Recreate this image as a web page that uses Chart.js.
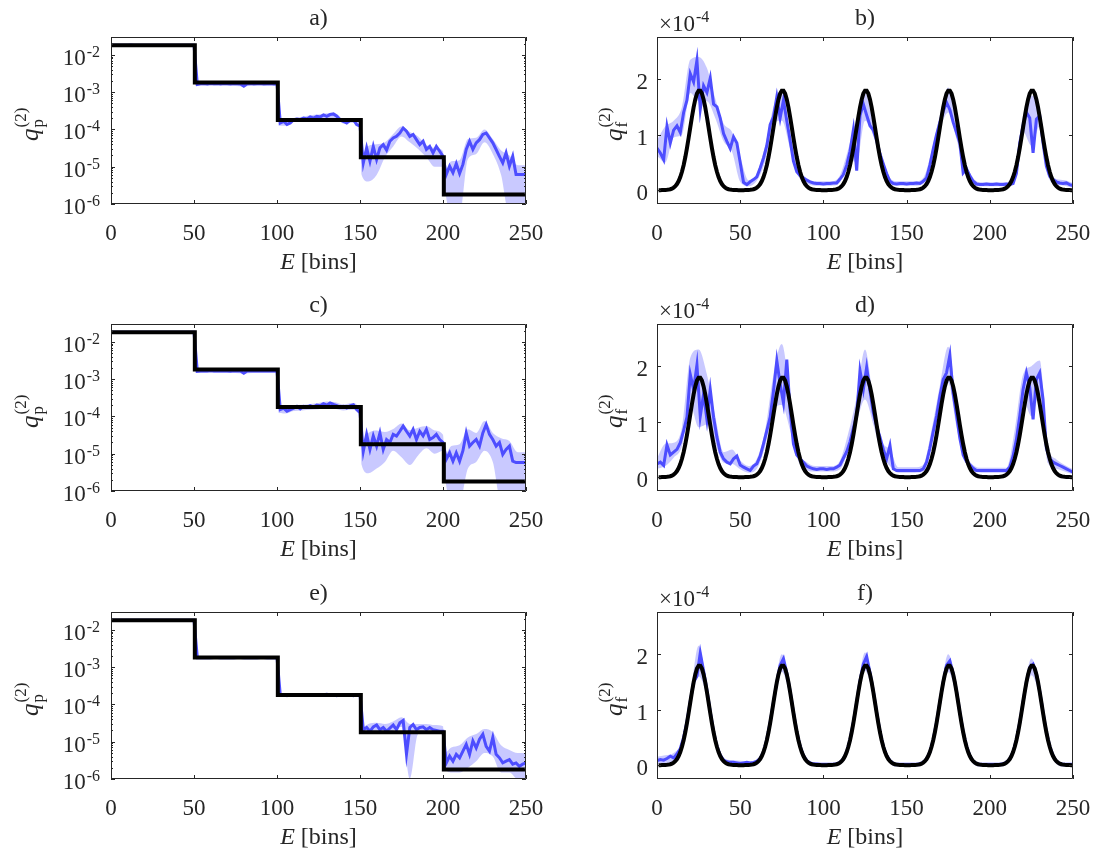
<!DOCTYPE html>
<html>
<head>
<meta charset="utf-8">
<script src="https://cdn.jsdelivr.net/npm/chart.js@4.4.0/dist/chart.umd.min.js"></script>
<style>
  html, body { margin: 0; padding: 0; background: #fff; overflow: hidden; }
  #fig { position: relative; width: 1099px; height: 856px; }
  #fig canvas { position: absolute; }
</style>
</head>
<body>
<div id="fig"></div>
<script>
/* ===============================
   DATA
================================ */
// energy bins of the estimates (every 2nd bin) and of the confidence bands
const eBins = Array.from({ length: 126 }, (_, i) => 2 * i);
const bandBinsF = Array.from({ length: 51 }, (_, i) => 5 * i);
const bandBinsP = [];
for (let b = 0; b < 5; b++) {
    bandBinsP.push(b * 50 + 1);
    for (let k = 5; k <= 50; k += 5) bandBinsP.push(b * 50 + k);
}

// true q_p : one level per block of 50 bins
const stepEdges = [0.5, 50.5, 100.5, 150.5, 200.5, 250];
const stepLevels = [1.8e-2, 1.8e-3, 1.8e-4, 1.8e-5, 1.8e-6];

// true q_f (x1e-4) over one block of 50 bins, same peak in every block
const peakBlock = [0, 0, 0.001, 0.001, 0.003, 0.005, 0.009, 0.016, 0.027, 0.045, 0.071, 0.109, 0.163, 0.235, 0.330, 0.449, 0.592, 0.757, 0.939, 1.130, 1.318, 1.491, 1.635, 1.739, 1.793,
    1.793, 1.739, 1.635, 1.491, 1.318, 1.130, 0.939, 0.757, 0.592, 0.449, 0.330, 0.235, 0.163, 0.109, 0.071, 0.045, 0.027, 0.016, 0.009, 0.005, 0.003, 0.001, 0.001, 0, 0];

// estimated q_p (panels a, c, e)
const qpA = [1.79e-2, 1.8e-2, 1.81e-2, 1.8e-2, 1.79e-2, 1.8e-2, 1.82e-2, 1.8e-2, 1.79e-2, 1.8e-2, 1.81e-2, 1.8e-2, 1.8e-2, 1.79e-2, 1.8e-2, 1.81e-2, 1.8e-2, 1.79e-2, 1.8e-2, 1.8e-2, 1.81e-2, 1.8e-2, 1.79e-2, 1.8e-2, 1.8e-2, 1.8e-2,
    1.6e-3, 1.68e-3, 1.7e-3, 1.65e-3, 1.72e-3, 1.68e-3, 1.7e-3, 1.66e-3, 1.7e-3, 1.68e-3, 1.64e-3, 1.7e-3, 1.68e-3, 1.66e-3, 1.45e-3, 1.68e-3, 1.7e-3, 1.66e-3, 1.68e-3, 1.7e-3, 1.65e-3, 1.68e-3, 1.7e-3, 1.66e-3, 1.68e-3,
    1.49e-4, 1.65e-4, 1.35e-4, 1.49e-4, 1.82e-4, 1.9e-4, 1.82e-4, 2.0e-4, 1.9e-4, 2.15e-4, 2.0e-4, 2.25e-4, 2.15e-4, 2.45e-4, 2.25e-4, 2.5e-4, 2.6e-4, 2.25e-4, 1.82e-4, 1.65e-4, 1.49e-4, 1.75e-4, 1.82e-4, 1.35e-4, 1.22e-4,
    1.27e-5, 3.2e-5, 1.4e-5, 3.5e-5, 1.56e-5, 3.2e-5, 3.9e-5, 2.8e-5, 4.8e-5, 5.9e-5, 6.5e-5, 8.0e-5, 1.09e-4, 8.9e-5, 6.5e-5, 7.3e-5, 5.3e-5, 3.9e-5, 4.8e-5, 2.9e-5, 3.5e-5, 2.35e-5, 3.5e-5, 2.6e-5, 1.9e-5,
    6.2e-6, 1.03e-5, 6.9e-6, 1.22e-5, 6.6e-6, 1.15e-5, 2.9e-5, 4.8e-5, 2.9e-5, 4.35e-5, 5.3e-5, 7.3e-5, 8.0e-5, 5.9e-5, 4.35e-5, 2.9e-5, 1.9e-5, 1.27e-5, 2.35e-5, 1.03e-5, 1.9e-5, 6.2e-6, 6.2e-6, 6.2e-6, 6.2e-6];
const qpALo = [1.7e-2, 1.7e-2, 1.7e-2, 1.7e-2, 1.7e-2, 1.7e-2, 1.7e-2, 1.7e-2, 1.7e-2, 1.7e-2, 1.7e-2,
    1.5e-3, 1.5e-3, 1.45e-3, 1.5e-3, 1.5e-3, 1.45e-3, 1.4e-3, 1.5e-3, 1.5e-3, 1.45e-3, 1.5e-3,
    1.25e-4, 1.25e-4, 1.6e-4, 1.7e-4, 1.8e-4, 1.9e-4, 2.0e-4, 2.0e-4, 1.45e-4, 1.5e-4, 1.05e-4,
    6e-6, 4e-6, 6e-6, 1.8e-5, 3.5e-5, 6.5e-5, 4.5e-5, 3e-5, 1.8e-5, 1e-5, 1e-5,
    3e-6, 5e-7, 5e-7, 1.6e-5, 2.2e-5, 4.5e-5, 2.2e-5, 6e-6, 5e-7, 5e-7, 5e-7];
const qpAHi = [1.9e-2, 1.9e-2, 1.9e-2, 1.9e-2, 1.9e-2, 1.9e-2, 1.9e-2, 1.9e-2, 1.9e-2, 1.9e-2, 1.9e-2,
    1.85e-3, 1.85e-3, 1.85e-3, 1.85e-3, 1.85e-3, 1.85e-3, 1.85e-3, 1.85e-3, 1.85e-3, 1.85e-3, 1.85e-3,
    1.65e-4, 1.75e-4, 2.0e-4, 2.2e-4, 2.4e-4, 2.5e-4, 2.7e-4, 2.7e-4, 1.9e-4, 2.0e-4, 1.5e-4,
    2.2e-5, 3.6e-5, 4e-5, 4.5e-5, 7.5e-5, 1.2e-4, 8.5e-5, 6.5e-5, 3.8e-5, 3.2e-5, 2.6e-5,
    8e-6, 1.4e-5, 1.5e-5, 5.5e-5, 6e-5, 1e-4, 5.5e-5, 2.7e-5, 2e-5, 1.1e-5, 1.1e-5];

const qpC = [1.8e-2, 1.79e-2, 1.8e-2, 1.81e-2, 1.8e-2, 1.8e-2, 1.79e-2, 1.8e-2, 1.81e-2, 1.8e-2, 1.79e-2, 1.8e-2, 1.8e-2, 1.81e-2, 1.8e-2, 1.79e-2, 1.8e-2, 1.8e-2, 1.81e-2, 1.8e-2, 1.79e-2, 1.8e-2, 1.8e-2, 1.81e-2, 1.8e-2, 1.8e-2,
    1.62e-3, 1.66e-3, 1.68e-3, 1.64e-3, 1.7e-3, 1.66e-3, 1.68e-3, 1.65e-3, 1.68e-3, 1.66e-3, 1.62e-3, 1.68e-3, 1.66e-3, 1.64e-3, 1.43e-3, 1.64e-3, 1.68e-3, 1.66e-3, 1.65e-3, 1.68e-3, 1.64e-3, 1.66e-3, 1.68e-3, 1.65e-3, 1.66e-3,
    1.52e-4, 1.67e-4, 1.38e-4, 1.52e-4, 1.67e-4, 1.86e-4, 1.59e-4, 1.86e-4, 1.75e-4, 1.93e-4, 1.78e-4, 2.0e-4, 1.93e-4, 2.2e-4, 2.0e-4, 2.3e-4, 2.1e-4, 1.93e-4, 1.78e-4, 1.86e-4, 1.67e-4, 1.93e-4, 2.05e-4, 1.52e-4, 1.25e-4,
    1.17e-5, 3.3e-5, 1.3e-5, 2.98e-5, 1.6e-5, 3.6e-5, 1.3e-5, 2.4e-5, 2e-5, 3.3e-5, 2.98e-5, 4.0e-5, 5.5e-5, 4.0e-5, 2.98e-5, 4.5e-5, 2.4e-5, 4.0e-5, 3e-5, 4.5e-5, 2.4e-5, 2.7e-5, 3.3e-5, 2.4e-5, 2e-5,
    7.1e-6, 1.06e-5, 6.3e-6, 1.06e-5, 6.3e-6, 1.2e-5, 3.6e-5, 1.6e-5, 2e-5, 2.4e-5, 1.6e-5, 3.6e-5, 6.05e-5, 3.3e-5, 2.4e-5, 1.6e-5, 2e-5, 9.6e-6, 1.3e-5, 1.6e-5, 6.3e-6, 5.8e-6, 5.8e-6, 5.8e-6, 5.8e-6];
const qpCLo = [1.72e-2, 1.72e-2, 1.72e-2, 1.72e-2, 1.72e-2, 1.72e-2, 1.72e-2, 1.72e-2, 1.72e-2, 1.72e-2, 1.72e-2,
    1.45e-3, 1.45e-3, 1.45e-3, 1.45e-3, 1.45e-3, 1.45e-3, 1.4e-3, 1.45e-3, 1.45e-3, 1.45e-3, 1.45e-3,
    1.25e-4, 1.2e-4, 1.4e-4, 1.45e-4, 1.5e-4, 1.55e-4, 1.7e-4, 1.6e-4, 1.45e-4, 1.5e-4, 1.0e-4,
    5e-6, 3e-6, 4e-6, 6e-6, 1.2e-5, 8e-6, 5e-6, 9e-6, 1.4e-5, 1e-5, 1.2e-5,
    3e-6, 5e-7, 5e-7, 4e-6, 6e-6, 1.2e-5, 6e-6, 5e-7, 5e-7, 5e-7, 5e-7];
const qpCHi = [1.9e-2, 1.9e-2, 1.9e-2, 1.9e-2, 1.9e-2, 1.9e-2, 1.9e-2, 1.9e-2, 1.9e-2, 1.9e-2, 1.9e-2,
    1.82e-3, 1.82e-3, 1.82e-3, 1.82e-3, 1.82e-3, 1.82e-3, 1.82e-3, 1.82e-3, 1.82e-3, 1.82e-3, 1.82e-3,
    1.65e-4, 1.7e-4, 1.95e-4, 2.05e-4, 2.15e-4, 2.3e-4, 2.5e-4, 2.4e-4, 2.1e-4, 2.3e-4, 1.5e-4,
    2.2e-5, 3.6e-5, 4.2e-5, 3.8e-5, 4.6e-5, 6.5e-5, 4.3e-5, 5e-5, 5.5e-5, 4.2e-5, 3.2e-5,
    9e-6, 1.6e-5, 1.8e-5, 4.5e-5, 3.6e-5, 7.5e-5, 3.6e-5, 2.6e-5, 2.2e-5, 1.1e-5, 1.1e-5];

const qpE = [1.8e-2, 1.8e-2, 1.79e-2, 1.8e-2, 1.8e-2, 1.81e-2, 1.8e-2, 1.8e-2, 1.79e-2, 1.8e-2, 1.8e-2, 1.81e-2, 1.8e-2, 1.8e-2, 1.79e-2, 1.8e-2, 1.8e-2, 1.81e-2, 1.8e-2, 1.8e-2, 1.79e-2, 1.8e-2, 1.8e-2, 1.81e-2, 1.8e-2, 1.8e-2,
    1.78e-3, 1.8e-3, 1.79e-3, 1.8e-3, 1.78e-3, 1.8e-3, 1.81e-3, 1.79e-3, 1.8e-3, 1.78e-3, 1.8e-3, 1.79e-3, 1.8e-3, 1.81e-3, 1.79e-3, 1.8e-3, 1.78e-3, 1.8e-3, 1.79e-3, 1.8e-3, 1.8e-3, 1.79e-3, 1.8e-3, 1.78e-3, 1.8e-3,
    1.75e-4, 1.8e-4, 1.72e-4, 1.85e-4, 1.78e-4, 1.82e-4, 1.76e-4, 1.84e-4, 1.8e-4, 1.78e-4, 1.85e-4, 1.8e-4, 1.75e-4, 1.82e-4, 1.86e-4, 1.78e-4, 1.8e-4, 1.72e-4, 1.8e-4, 1.84e-4, 1.76e-4, 1.8e-4, 1.7e-4, 1.78e-4, 1.8e-4,
    2.1e-5, 2.4e-5, 1.9e-5, 2.5e-5, 2.8e-5, 2.1e-5, 2.4e-5, 1.9e-5, 2.3e-5, 2.8e-5, 2.1e-5, 3.2e-5, 3.7e-5, 4.6e-6, 2.4e-5, 2.9e-5, 2.1e-5, 2.4e-5, 2.5e-5, 2.1e-5, 2.4e-5, 2.1e-5, 2.0e-5, 1.9e-5, 1.9e-5,
    2.7e-6, 4.1e-6, 3e-6, 4.6e-6, 3.7e-6, 5.6e-6, 8.5e-6, 4.6e-6, 1.05e-5, 6.8e-6, 1.16e-5, 1.58e-5, 7.5e-6, 5.6e-6, 1.3e-5, 4.6e-6, 3.7e-6, 2.7e-6, 3e-6, 3.3e-6, 2.5e-6, 2.7e-6, 2.2e-6, 2.5e-6, 2.7e-6];
const qpELo = [1.75e-2, 1.75e-2, 1.75e-2, 1.75e-2, 1.75e-2, 1.75e-2, 1.75e-2, 1.75e-2, 1.75e-2, 1.75e-2, 1.75e-2,
    1.72e-3, 1.72e-3, 1.72e-3, 1.72e-3, 1.72e-3, 1.72e-3, 1.72e-3, 1.72e-3, 1.72e-3, 1.72e-3, 1.72e-3,
    1.62e-4, 1.62e-4, 1.62e-4, 1.62e-4, 1.62e-4, 1.62e-4, 1.62e-4, 1.62e-4, 1.62e-4, 1.62e-4, 1.62e-4,
    1.6e-5, 1.6e-5, 1.7e-5, 1.6e-5, 2e-5, 2.5e-5, 1e-6, 1.6e-5, 1.7e-5, 1.6e-5, 1.6e-5,
    2e-6, 1.5e-6, 1.5e-6, 2e-6, 3e-6, 5e-6, 4e-6, 1.5e-6, 1.5e-6, 1e-6, 1e-6];
const qpEHi = [1.85e-2, 1.85e-2, 1.85e-2, 1.85e-2, 1.85e-2, 1.85e-2, 1.85e-2, 1.85e-2, 1.85e-2, 1.85e-2, 1.85e-2,
    1.85e-3, 1.85e-3, 1.85e-3, 1.85e-3, 1.85e-3, 1.85e-3, 1.85e-3, 1.85e-3, 1.85e-3, 1.85e-3, 1.85e-3,
    1.95e-4, 1.95e-4, 1.95e-4, 1.95e-4, 1.95e-4, 1.95e-4, 1.95e-4, 1.95e-4, 1.95e-4, 1.95e-4, 1.95e-4,
    2.4e-5, 3e-5, 3.2e-5, 3e-5, 3.5e-5, 4.5e-5, 3e-5, 3e-5, 3e-5, 2.8e-5, 2.6e-5,
    5e-6, 7e-6, 8e-6, 1.3e-5, 1.6e-5, 2.2e-5, 1.8e-5, 8e-6, 6e-6, 5e-6, 5e-6];

// estimated q_f in units of 1e-4 (panels b, d, f)
const qfB = [0.76, 0.67, 0.55, 1.15, 0.85, 1.08, 1.16, 1.04, 1.40, 1.62, 2.10, 1.95, 2.34, 1.46, 1.88, 1.76, 2.02, 1.55, 1.50, 1.30, 1.02, 0.88, 0.75, 0.96, 0.85, 0.50,
    0.14, 0.10, 0.15, 0.19, 0.24, 0.40, 0.58, 0.80, 1.18, 1.32, 1.68, 1.30, 1.62, 1.25, 0.90, 0.52, 0.33, 0.26, 0.22, 0.18, 0.15, 0.13, 0.12, 0.12, 0.11,
    0.12, 0.12, 0.13, 0.13, 0.20, 0.28, 0.45, 0.70, 1.08, 0.35, 1.35, 1.55, 1.35, 1.16, 1.08, 0.90, 0.65, 0.47, 0.30, 0.16, 0.12, 0.11, 0.12, 0.12, 0.11,
    0.12, 0.12, 0.13, 0.12, 0.16, 0.22, 0.45, 0.74, 1.00, 1.22, 1.42, 1.58, 1.45, 1.22, 1.04, 0.85, 0.31, 0.38, 0.26, 0.16, 0.11, 0.10, 0.10, 0.11, 0.10,
    0.10, 0.11, 0.10, 0.10, 0.11, 0.10, 0.12, 0.30, 0.85, 1.16, 1.40, 1.30, 0.67, 1.28, 1.34, 0.85, 0.43, 0.25, 0.19, 0.15, 0.13, 0.12, 0.13, 0.10, 0.08];
const qfBLo = [0.62, 0.5, 0.95, 1.0, 1.75, 1.6, 1.6, 1.3, 0.88, 0.7,
    0.15, 0.07, 0.17, 0.52, 1.2, 1.25, 0.75, 0.25, 0.12, 0.08,
    0.08, 0.08, 0.14, 0.55, 0.5, 1.25, 0.98, 0.42, 0.11, 0.08,
    0.08, 0.08, 0.11, 0.55, 1.1, 1.4, 0.92, 0.3, 0.11, 0.07,
    0.07, 0.07, 0.07, 0.2, 1.05, 0.8, 1.15, 0.25, 0.1, 0.08, 0.04];
const qfBHi = [0.9, 1.15, 1.25, 1.5, 2.35, 2.4, 2.2, 1.65, 1.2, 1.05,
    0.6, 0.18, 0.3, 0.8, 1.5, 1.8, 1.0, 0.4, 0.22, 0.16,
    0.16, 0.16, 0.27, 0.75, 1.3, 1.75, 1.2, 0.65, 0.22, 0.16,
    0.16, 0.16, 0.22, 0.7, 1.35, 1.85, 1.2, 0.55, 0.22, 0.14,
    0.14, 0.14, 0.14, 0.4, 1.35, 1.7, 1.45, 0.42, 0.2, 0.18, 0.13];

const qfD = [0.24, 0.27, 0.21, 0.58, 0.40, 0.45, 0.50, 0.62, 0.84, 1.08, 1.85, 1.58, 2.02, 1.10, 1.50, 1.04, 1.58, 1.08, 0.72, 0.45, 0.33, 0.27, 0.24, 0.33, 0.38, 0.22,
    0.18, 0.15, 0.12, 0.20, 0.24, 0.38, 0.60, 0.84, 1.08, 1.55, 2.10, 1.68, 1.34, 2.12, 1.20, 0.60, 0.40, 0.33, 0.27, 0.20, 0.17, 0.15, 0.14, 0.15, 0.15,
    0.14, 0.15, 0.15, 0.18, 0.22, 0.34, 0.46, 0.64, 0.88, 1.12, 1.92, 1.58, 1.98, 1.55, 1.16, 0.92, 0.72, 0.50, 0.33, 0.57, 0.15, 0.12, 0.12, 0.12, 0.12,
    0.12, 0.12, 0.12, 0.12, 0.15, 0.27, 0.52, 0.82, 1.10, 1.46, 1.76, 1.88, 2.20, 1.50, 1.12, 0.70, 0.40, 0.28, 0.22, 0.16, 0.12, 0.12, 0.12, 0.12, 0.12,
    0.12, 0.12, 0.12, 0.12, 0.12, 0.18, 0.38, 0.68, 1.10, 1.58, 1.88, 1.62, 1.04, 1.76, 1.88, 1.40, 0.52, 0.33, 0.27, 0.24, 0.21, 0.18, 0.15, 0.12, 0.09];
const qfDLo = [0.15, 0.2, 0.35, 0.55, 1.3, 0.9, 0.95, 0.6, 0.26, 0.24,
    0.14, 0.08, 0.15, 0.55, 1.2, 1.3, 0.85, 0.28, 0.13, 0.1,
    0.1, 0.1, 0.14, 0.5, 1.0, 1.4, 0.95, 0.4, 0.2, 0.08,
    0.08, 0.08, 0.1, 0.55, 1.3, 1.7, 0.9, 0.3, 0.1, 0.08,
    0.08, 0.08, 0.08, 0.5, 1.4, 1.1, 1.5, 0.25, 0.15, 0.1, 0.05];
const qfDHi = [0.34, 0.6, 0.62, 0.9, 2.15, 2.3, 1.85, 1.1, 0.45, 0.5,
    0.3, 0.2, 0.33, 0.85, 1.85, 2.4, 1.45, 0.46, 0.27, 0.2,
    0.2, 0.2, 0.3, 0.8, 1.45, 2.3, 1.4, 0.65, 0.5, 0.18,
    0.18, 0.18, 0.22, 0.85, 1.65, 2.35, 1.35, 0.5, 0.22, 0.17,
    0.17, 0.17, 0.17, 0.85, 1.85, 2.0, 2.1, 0.55, 0.32, 0.22, 0.14];

const qfF = [0.08, 0.10, 0.09, 0.12, 0.16, 0.13, 0.20, 0.30, 0.50, 0.78, 1.15, 1.50, 1.60, 2.02, 1.70, 1.35, 0.96, 0.60, 0.34, 0.18, 0.09, 0.06, 0.05, 0.05, 0.04, 0.03,
    0.04, 0.05, 0.04, 0.05, 0.07, 0.12, 0.24, 0.46, 0.77, 1.14, 1.50, 1.80, 1.92, 1.66, 1.33, 0.95, 0.60, 0.34, 0.17, 0.08, 0.04, 0.02, 0.02, 0.01, 0.01,
    0.01, 0.01, 0.01, 0.02, 0.05, 0.11, 0.24, 0.46, 0.77, 1.14, 1.52, 1.82, 1.96, 1.67, 1.33, 0.95, 0.60, 0.34, 0.17, 0.08, 0.03, 0.01, 0.01, 0.01, 0.01,
    0.01, 0.01, 0.01, 0.02, 0.05, 0.11, 0.24, 0.46, 0.77, 1.14, 1.50, 1.80, 1.88, 1.65, 1.33, 0.95, 0.60, 0.34, 0.17, 0.07, 0.03, 0.01, 0.01, 0.01, 0.01,
    0.01, 0.01, 0.01, 0.02, 0.05, 0.11, 0.24, 0.46, 0.77, 1.14, 1.50, 1.76, 1.82, 1.65, 1.33, 0.95, 0.60, 0.34, 0.17, 0.07, 0.03, 0.01, 0.01, 0.01, 0.01];
const qfFLo = [0.02, 0.04, 0.06, 0.26, 1.03, 1.6, 1.22, 0.38, 0.03, 0.0,
    0.0, -0.02, 0.01, 0.26, 1.03, 1.68, 1.22, 0.38, 0.03, -0.02,
    -0.02, -0.02, 0.01, 0.26, 1.03, 1.7, 1.22, 0.38, 0.03, -0.03,
    -0.03, -0.03, 0.01, 0.26, 1.03, 1.68, 1.22, 0.38, 0.02, -0.03,
    -0.03, -0.03, 0.01, 0.26, 1.03, 1.62, 1.22, 0.38, 0.02, -0.03, -0.03];
const qfFHi = [0.15, 0.18, 0.22, 0.42, 1.23, 2.15, 1.42, 0.54, 0.13, 0.09,
    0.08, 0.07, 0.09, 0.42, 1.23, 2.0, 1.42, 0.52, 0.12, 0.05,
    0.05, 0.05, 0.09, 0.42, 1.23, 2.03, 1.42, 0.52, 0.11, 0.05,
    0.05, 0.05, 0.09, 0.42, 1.23, 2.0, 1.42, 0.52, 0.11, 0.05,
    0.05, 0.05, 0.09, 0.42, 1.23, 1.92, 1.42, 0.52, 0.11, 0.05, 0.05];

// axis ticks
const xTicks = [0, 50, 100, 150, 200, 250];
const logExps = [-2, -3, -4, -5, -6];
const fTicks = [0, 1, 2];

/* ===============================
   STYLE
================================ */
const ink = '#262626';
const serif = '"Liberation Serif", "Times New Roman", serif';
const blue = '#4d4dff';
const bandFill = 'rgba(77,77,255,0.3)';

const pts = (xs, ys) => ys.map((y, i) => ({ x: xs[i], y }));

const truthP = stepEdges.map((x, i) => ({ x, y: stepLevels[Math.min(i, stepLevels.length - 1)] }));
const truthF = [];
for (let b = 0; b < 5; b++) peakBlock.forEach((v, i) => truthF.push({ x: b * 50 + i + 1, y: v }));

/* ===============================
   AXES, TICKS AND LABELS
================================ */
function drawQLabel(ctx, x, y, sub) {
    // rotated q_sub^(2), text running bottom to top
    ctx.save();
    ctx.translate(x, y);
    ctx.rotate(-Math.PI / 2);
    ctx.textAlign = 'left';
    ctx.textBaseline = 'alphabetic';
    ctx.font = `italic 25px ${serif}`;
    ctx.fillText('q', 0, 0);
    const w = ctx.measureText('q').width + 1;
    ctx.font = `17px ${serif}`;
    ctx.fillText(sub, w, 5);
    ctx.fillText('(2)', w, -12);
    ctx.restore();
}

const figAxes = {
    id: 'figAxes',
    afterDatasetsDraw(chart, args, o) {
        const { ctx, chartArea: a } = chart;
        const xs = chart.scales.x, ys = chart.scales.y;
        const L = a.left, R = a.right, T = a.top, B = a.bottom;
        ctx.save();

        // box + inward ticks
        ctx.strokeStyle = ink;
        ctx.lineWidth = 1;
        ctx.beginPath();
        ctx.rect(L + 0.5, T + 0.5, R - L - 1, B - T - 1);
        xTicks.forEach(v => {
            const p = Math.round(xs.getPixelForValue(v)) + 0.5;
            ctx.moveTo(p, B); ctx.lineTo(p, B - 4);
            ctx.moveTo(p, T); ctx.lineTo(p, T + 4);
        });
        const yTick = (v, len) => {
            const p = Math.round(ys.getPixelForValue(v)) + 0.5;
            ctx.moveTo(L, p); ctx.lineTo(L + len, p);
            ctx.moveTo(R, p); ctx.lineTo(R - len, p);
        };
        if (o.log) {
            logExps.forEach(e => {
                yTick(Math.pow(10, e), 4);
                for (let k = 2; k <= 9; k++) {
                    const v = k * Math.pow(10, e);
                    if (v < ys.max) yTick(v, 2);
                }
            });
        } else {
            fTicks.forEach(v => yTick(v, 4));
        }
        ctx.stroke();

        ctx.fillStyle = ink;
        ctx.textBaseline = 'alphabetic';

        // x tick labels
        ctx.font = `23px ${serif}`;
        ctx.textAlign = 'center';
        xTicks.forEach(v => ctx.fillText(String(v), xs.getPixelForValue(v), B + 36));

        // y tick labels
        if (o.log) {
            ctx.textAlign = 'left';
            logExps.forEach(e => {
                const p = ys.getPixelForValue(Math.pow(10, e));
                ctx.font = `23px ${serif}`;
                const w10 = ctx.measureText('10').width;
                ctx.font = `16px ${serif}`;
                const we = ctx.measureText(String(e)).width;
                const sx = L - 11 - w10 - we - 1;
                ctx.font = `23px ${serif}`;
                ctx.fillText('10', sx, p + 10);
                ctx.font = `16px ${serif}`;
                ctx.fillText(String(e), sx + w10 + 1, p + 2);
            });
        } else {
            ctx.textAlign = 'right';
            ctx.font = `23px ${serif}`;
            fTicks.forEach(v => ctx.fillText(String(v), L - 9, ys.getPixelForValue(v) + 10));
            // exponent of the axis
            ctx.textAlign = 'left';
            ctx.fillText('\u00d710', L + 2, T - 6);
            const w = ctx.measureText('\u00d710').width;
            ctx.font = `16px ${serif}`;
            ctx.fillText('-4', L + 3 + w, T - 15);
        }

        // panel letter
        ctx.textAlign = 'center';
        ctx.font = `24px ${serif}`;
        ctx.fillText(o.title, (L + R) / 2, T - 12);

        // x label: E [bins]
        ctx.font = `italic 24px ${serif}`;
        const wE = ctx.measureText('E').width;
        ctx.font = `24px ${serif}`;
        const wB = ctx.measureText(' [bins]').width;
        const x0 = (L + R) / 2 - (wE + wB) / 2;
        ctx.textAlign = 'left';
        ctx.font = `italic 24px ${serif}`;
        ctx.fillText('E', x0, B + 65);
        ctx.font = `24px ${serif}`;
        ctx.fillText(' [bins]', x0 + wE, B + 65);

        // y label
        drawQLabel(ctx, L - o.ylabGap, T + 104, o.log ? 'p' : 'f');

        ctx.restore();
    }
};

/* ===============================
   PANELS
================================ */
const rowTops = [37, 324, 612];
const plotH = 167;
const cols = [
    { x0: 0, w: 546, L: 111, R: 526 },
    { x0: 546, w: 553, L: 657, R: 1073 }
];
const panels = [
    { title: 'a)', row: 0, col: 0, log: true, mid: qpA, lo: qpALo, hi: qpAHi },
    { title: 'b)', row: 0, col: 1, log: false, mid: qfB, lo: qfBLo, hi: qfBHi },
    { title: 'c)', row: 1, col: 0, log: true, mid: qpC, lo: qpCLo, hi: qpCHi },
    { title: 'd)', row: 1, col: 1, log: false, mid: qfD, lo: qfDLo, hi: qfDHi },
    { title: 'e)', row: 2, col: 0, log: true, mid: qpE, lo: qpELo, hi: qpEHi },
    { title: 'f)', row: 2, col: 1, log: false, mid: qfF, lo: qfFLo, hi: qfFHi }
];

const fig = document.getElementById('fig');
panels.forEach(p => {
    const c = cols[p.col];
    const T = rowTops[p.row];
    const cv = document.createElement('canvas');
    cv.width = c.w;
    cv.height = 287;
    cv.style.left = c.x0 + 'px';
    cv.style.top = (T - 37) + 'px';
    fig.appendChild(cv);

    const bandX = p.log ? bandBinsP : bandBinsF;
    new Chart(cv, {
        type: 'line',
        data: {
            datasets: [
                { data: p.log ? truthP : truthF, borderColor: '#000', borderWidth: 4, stepped: p.log, pointRadius: 0, fill: false },
                { data: pts(eBins, p.mid), borderColor: blue, borderWidth: 3, pointRadius: 0, fill: false },
                { data: pts(bandX, p.hi), borderColor: 'rgba(0,0,0,0)', borderWidth: 0, backgroundColor: bandFill, pointRadius: 0, fill: '+1', cubicInterpolationMode: 'monotone' },
                { data: pts(bandX, p.lo), borderColor: 'rgba(0,0,0,0)', borderWidth: 0, pointRadius: 0, fill: false, cubicInterpolationMode: 'monotone' }
            ]
        },
        options: {
            responsive: false,
            animation: false,
            devicePixelRatio: 1,
            events: [],
            layout: { padding: { left: c.L - c.x0, right: c.x0 + c.w - c.R, top: 37, bottom: 287 - 37 - plotH } },
            scales: {
                x: { type: 'linear', min: 0, max: 250, display: false },
                y: p.log
                    ? { type: 'logarithmic', min: 1e-6, max: 0.03, display: false }
                    : { type: 'linear', min: -0.25, max: 2.76, display: false }
            },
            plugins: {
                legend: { display: false },
                tooltip: { enabled: false },
                figAxes: { title: p.title, log: p.log, ylabGap: p.log ? 73 : 35 }
            }
        },
        plugins: [figAxes]
    });
});
</script>
</body>
</html>
